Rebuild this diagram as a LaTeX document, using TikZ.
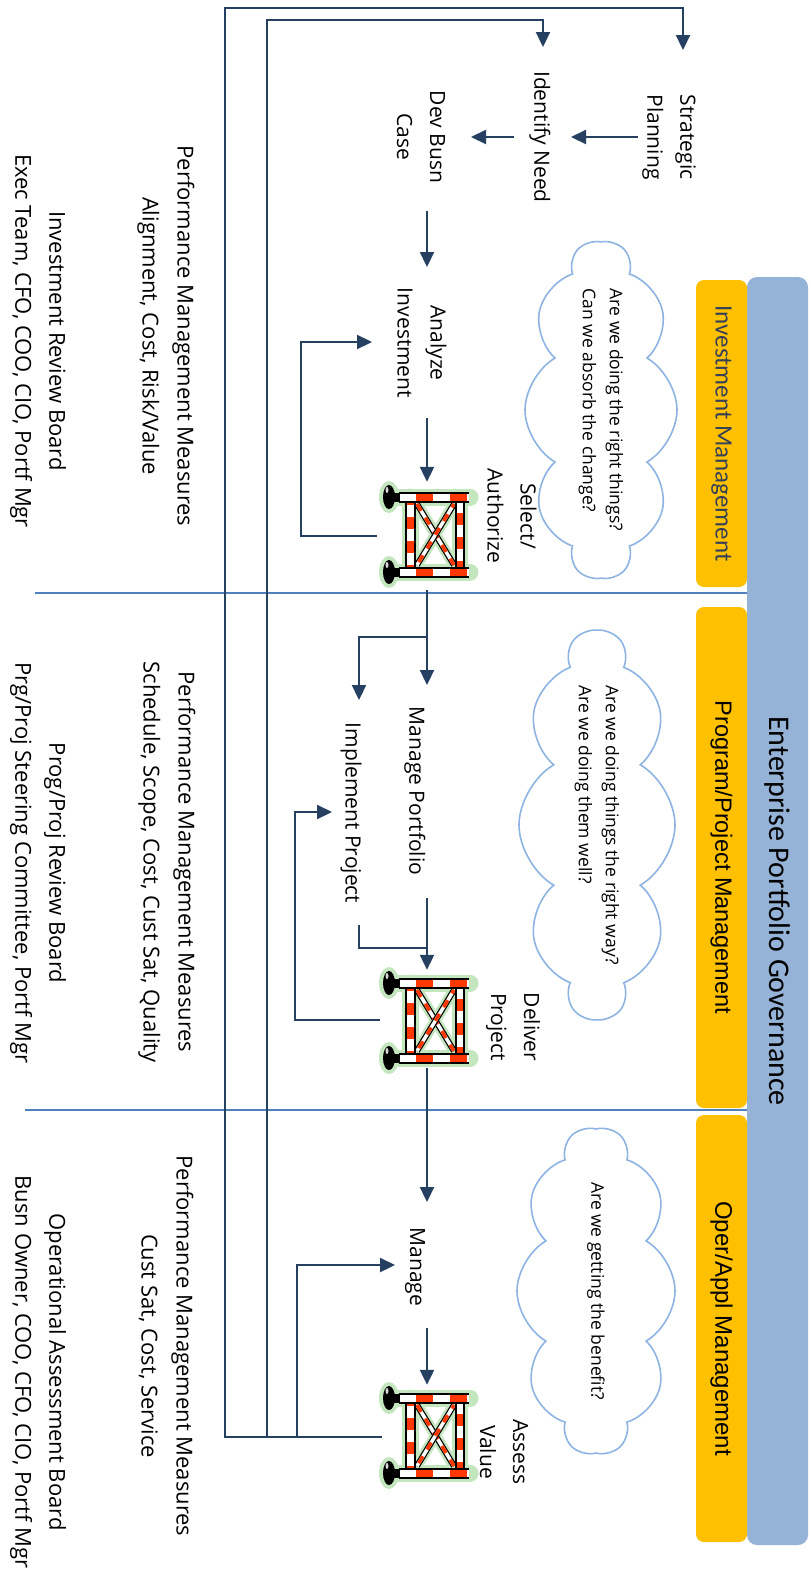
\documentclass[tikz,border=0pt]{standalone}
\usepackage{fontspec}
\setmainfont{Open Sans}
\newfontfamily\calibrifam{Carlito}
\newfontfamily\arialfam{Liberation Sans}
\usetikzlibrary{arrows.meta,shapes.symbols,calc}

\definecolor{flow}{RGB}{37,64,97}
\definecolor{sepblue}{RGB}{79,129,189}
\definecolor{govblue}{RGB}{149,179,215}
\definecolor{phasegold}{RGB}{255,192,0}
\definecolor{cloudblue}{RGB}{141,180,226}
\definecolor{gatered}{RGB}{255,55,0}
\definecolor{halo}{RGB}{196,230,190}
\definecolor{invtext}{RGB}{55,65,85}

% one striped bar of the barricade: start, end, outer width, inner width, dash, phase
\newcommand\stripebar[6]{%
  \draw[line width=#3, black] #1 -- #2;
  \draw[line width=#4, white] #1 -- #2;
  \draw[line width=#4, gatered, dash pattern=on #5 off #5, dash phase=#6] #1 -- #2;
}

% barricade icon drawn around the origin of the current scope
\newcommand\barricade{%
  \begin{scope}[draw=halo, fill=halo, line cap=round, line join=round]
    \draw[line width=17pt] (-30,-37) -- (43,-37);
    \draw[line width=17pt] (-30,38) -- (43,38);
    \draw[line width=17pt] (-17,-37) -- (-17,38);
    \draw[line width=16pt] (33,-37) -- (33,38);
    \draw[line width=11pt] (-10,-30) -- (27,31);
    \draw[line width=11pt] (27,-30) -- (-10,31);
    \fill (-38,-37) ellipse [x radius=10, y radius=16];
    \fill (-38,38) ellipse [x radius=10, y radius=16];
  \end{scope}
  \stripebar{(-10,-30)}{(27,31)}{6pt}{3.5pt}{8pt}{0pt}
  \stripebar{(27,-30)}{(-10,31)}{6pt}{3.5pt}{8pt}{4pt}
  \stripebar{(-17,-37)}{(-17,38)}{11pt}{7pt}{12pt}{4pt}
  \stripebar{(33,-37)}{(33,38)}{10pt}{6pt}{12pt}{8pt}
  \stripebar{(-28,-37)}{(42,-37)}{11pt}{7pt}{17pt}{17pt}
  \stripebar{(-28,38)}{(42,38)}{11pt}{7pt}{17pt}{17pt}
  \draw[line width=9pt, black] (-37,-37) -- (-27,-37);
  \draw[line width=9pt, black] (-37,38) -- (-27,38);
  \fill[black] (-38,-37) ellipse [x radius=6, y radius=12];
  \fill[black] (-38,38) ellipse [x radius=6, y radius=12];
  \fill[white!70!gray] (-40,-44) ellipse [x radius=1.5, y radius=3];
  \fill[white!70!gray] (-40,31) ellipse [x radius=1.5, y radius=3];
}

\begin{document}
\begin{tikzpicture}[x=1pt, y=-1pt,
  lbl/.style={rotate=-90, align=center, inner sep=2pt,
    font=\fontsize{21}{33}\selectfont},
  sidetxt/.style={rotate=-90, align=center, inner sep=2pt,
    font=\fontsize{22}{35}\selectfont},
  boardtxt/.style={rotate=-90, align=center, inner sep=2pt,
    font=\fontsize{22}{34}\selectfont},
  arr/.style={draw=flow, line width=2.2pt,
    -{Triangle[length=15pt, width=14pt]}},
  plain/.style={draw=flow, line width=2.2pt},
  sepline/.style={draw=sepblue, line width=1.8pt},
  govbox/.style={rotate=-90, fill=govblue, rounded corners=10pt,
    inner sep=0pt, minimum height=61pt},
  phasebox/.style={rotate=-90, fill=phasegold, rounded corners=8pt,
    inner sep=0pt, minimum height=51pt},
  thought/.style={cloud, draw=cloudblue, line width=1.6pt, cloud puffs=10,
    cloud puff arc=120, cloud ignores aspect, rotate=-90, align=left,
    inner sep=0pt, font=\fontsize{17.5}{27}\selectfont},
  gatenode/.style={minimum width=88pt, minimum height=98pt, inner sep=0pt}
]
\useasboundingbox (0,0) rectangle (811,1575);
\fill[white] (0,0) rectangle (811,1575);

% governance band and phase headers
\node[govbox, minimum width=1268pt, font=\calibrifam\fontsize{30}{36}\selectfont]
  (gov) at (777.5,911) {Enterprise Portfolio Governance};
\node[phasebox, minimum width=307pt, text=invtext,
  font=\calibrifam\fontsize{25}{30}\selectfont]
  (ph1) at (721.5,433.5) {Investment Management};
\node[phasebox, minimum width=501pt, font=\arialfam\fontsize{23.5}{28}\selectfont]
  (ph2) at (721.5,857.5) {Program/Project Management};
\node[phasebox, minimum width=427pt, font=\arialfam\fontsize{24}{28}\selectfont]
  (ph3) at (721.5,1328.5) {Oper/Appl Management};

% phase separators
\draw[sepline] (35,593) -- (747,593);
\draw[sepline] (25,1110) -- (747,1110);

% thought clouds
\node[thought, minimum width=310pt, minimum height=152pt] (cl1) at (601,410)
  {Are we doing the right things?\\Can we absorb the change?};
\node[thought, minimum width=318pt, minimum height=156pt] (cl2) at (597,825)
  {Are we doing things the right way?\\Are we doing them well?};
\node[thought, minimum width=327pt, minimum height=158pt] (cl3) at (596,1291)
  {Are we getting the benefit?};

% process steps
\node[lbl] (sp)  at (669,137)  {Strategic\\Planning};
\node[lbl] (idn) at (540,137)  {Identify Need};
\node[lbl] (dbc) at (421,137)  {Dev Busn\\Case};
\node[lbl] (ai)  at (422,343)  {Analyze\\Investment};
\node[lbl] (mp)  at (415,791)  {Manage Portfolio};
\node[lbl] (ip)  at (351,813)  {Implement Project};
\node[lbl] (mg)  at (415,1267) {Manage};

% decision gates
\node[gatenode] (g1) at (427,534) {};
\node[gatenode] (g2) at (427,1020) {};
\node[gatenode] (g3) at (427,1435) {};
\begin{scope}[shift={(g1.center)}]\barricade\end{scope}
\begin{scope}[shift={(g2.center)}]\barricade\end{scope}
\begin{scope}[shift={(g3.center)}]\barricade\end{scope}
\node[lbl] (g1l) at (512,516)  {Select/\\Authorize};
\node[lbl] (g2l) at (513,1027) {Deliver\\Project};
\node[lbl] (g3l) at (504,1452) {Assess\\Value};

% measures and boards
\node[sidetxt] (pm1) at (166,336)
  {Performance Management Measures\\Alignment, Cost, Risk/Value};
\node[boardtxt] (rb1) at (38,341)
  {Investment Review Board\\Exec Team, CFO, COO, CIO, Portf Mgr};
\node[sidetxt] (pm2) at (167,862)
  {Performance Management Measures\\Schedule, Scope, Cost, Cust Sat, Quality};
\node[boardtxt] (rb2) at (38,863)
  {Prog/Proj Review Board\\Prg/Proj Steering Committee, Portf Mgr};
\node[sidetxt] (pm3) at (166,1346)
  {Performance Management Measures\\Cust Sat, Cost, Service};
\node[boardtxt] (rb3) at (38,1372)
  {Operational Assessment Board\\Busn Owner, COO, CFO, CIO, Portf Mgr};

% investment flow
\draw[arr] ($(sp)+(-31,0)$) -- ($(idn)+(31,0)$);
\draw[arr] ($(idn)+(-26,0)$) -- ($(dbc)+(50,0)$);
\draw[arr] ($(dbc)+(6,74)$) -- ($(ai)+(5,-76)$);
\draw[arr] ($(ai)+(5,75)$) -- ($(g1.north)+(0,-3)$);
\draw[arr] ($(g1.west)+(-6,2)$) -- ++(-76,0) |- ($(ai)+(-50,-1)$);

% program/project flow
\draw[arr] ($(g1.south)+(0,7)$) -- ($(mp)+(12,-106)$);
\draw[arr] ($(g1.south)+(0,54)$) -| ($(ip)+(8,-113)$);
\draw[arr] ($(mp)+(12,107)$) -- ($(g2.north)+(0,-1)$);
\draw[plain] ($(ip)+(8,112)$) |- ($(g2.north)+(0,-23)$);
\draw[arr] ($(g2.west)+(-3,0)$) -- ++(-85,0) |- ($(ip)+(-19,-1)$);

% operations flow
\draw[arr] ($(g2.south)+(0,-1)$) -- ($(mg)+(12,-65)$);
\draw[arr] ($(mg)+(12,61)$) -- ($(g3.north)+(0,-1)$);

% feedback from value assessment
\coordinate (g3w) at ($(g3.west)+(-1,2)$);
\coordinate (fbA) at (225,8);
\coordinate (fbB) at (267,20);
\draw[arr] (g3w) -- ++(-85,0) |- ($(mg)+(-20,-2)$);
\draw[arr] (g3w) -| (fbB) -| ($(idn)+(3,-90)$);
\draw[arr] (g3w) -| (fbA) -| ($(sp)+(14,-87)$);
\end{tikzpicture}
\end{document}
